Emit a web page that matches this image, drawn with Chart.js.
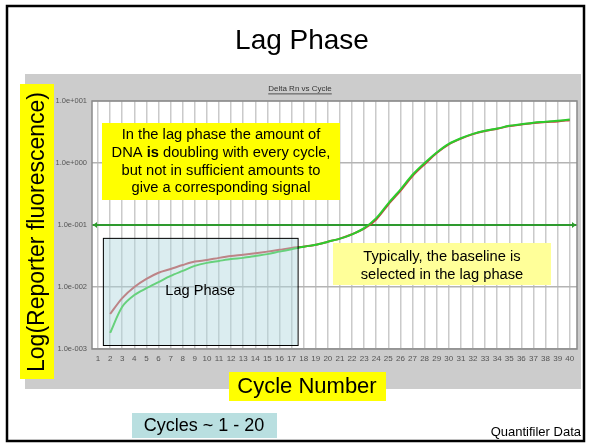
<!DOCTYPE html>
<html>
<head>
<meta charset="utf-8">
<script src="https://cdn.jsdelivr.net/npm/chart.js@4.4.0/dist/chart.umd.min.js"></script>
<style>
  html, body { margin: 0; padding: 0; background: #fff; }
  canvas { display: block; }
</style>
</head>
<body>
<canvas id="chart" width="591" height="447"></canvas>
<script>
// cycle numbers for the two amplification curves
var cycles = [2, 3, 4, 5, 6, 7, 8, 9, 10, 11, 12, 13, 14, 15, 16, 17, 18, 19, 20, 21,
  22, 23, 24, 25, 26, 27, 28, 29, 30, 31, 32, 33, 34, 35, 36, 37, 38, 39, 40];
// delta Rn, green sample
var greenRn = [0.00182, 0.00479, 0.00741, 0.00955, 0.0120, 0.0151, 0.0182, 0.0219, 0.0245, 0.0263,
  0.0282, 0.0295, 0.0316, 0.0339, 0.0372, 0.0407, 0.0447, 0.0479, 0.0537, 0.0603,
  0.0708, 0.0891, 0.129, 0.224, 0.372, 0.646, 1.0, 1.48, 2.04, 2.51,
  2.95, 3.31, 3.59, 3.98, 4.22, 4.47, 4.62, 4.79, 5.01];
// delta Rn, red sample
var redRn = [0.00367, 0.00661, 0.0100, 0.0135, 0.0170, 0.0195, 0.0226, 0.0257, 0.0272, 0.0295,
  0.0316, 0.0331, 0.0350, 0.0372, 0.0398, 0.0427, 0.0447, 0.0479, 0.0537, 0.0603,
  0.0708, 0.0871, 0.123, 0.214, 0.355, 0.617, 0.955, 1.45, 2.0, 2.47,
  2.92, 3.28, 3.56, 3.94, 4.18, 4.43, 4.57, 4.68, 4.9];
var xTicks = [1, 2, 3, 4, 5, 6, 7, 8, 9, 10, 11, 12, 13, 14, 15, 16, 17, 18, 19, 20,
  21, 22, 23, 24, 25, 26, 27, 28, 29, 30, 31, 32, 33, 34, 35, 36, 37, 38, 39, 40];
var yTicks = [0.001, 0.01, 0.1, 1, 10];
var threshold = 0.1;
// lag phase region, in data units: cycle from/to, Rn top/bottom
var lagCycles = [1.4, 17.5];
var lagRn = [0.062, 0.00116];

var FONT = "'Liberation Sans', Arial, sans-serif";

function sci(v) {
  var e = Math.round(Math.log10(v));
  var s = e < 0 ? "-" : "+";
  var n = String(Math.abs(e));
  while (n.length < 3) n = "0" + n;
  return "1.0e" + s + n;
}

function toPts(vals) {
  return cycles.map(function (c, i) { return { x: c, y: vals[i] }; });
}

function box(ctx, x, y, w, h, fill) {
  ctx.fillStyle = fill;
  ctx.fillRect(x, y, w, h);
}

function lines(ctx, arr, x, y, lh, font) {
  ctx.font = font;
  ctx.fillStyle = "#000";
  ctx.textAlign = "center";
  ctx.textBaseline = "middle";
  arr.forEach(function (t, i) { ctx.fillText(t, x, y + i * lh); });
}

var slide = {
  id: "slide",
  beforeDraw: function (chart) {
    var ctx = chart.ctx, a = chart.chartArea;
    ctx.save();
    box(ctx, 0, 0, 591, 447, "#fff");
    box(ctx, 25, 74, 556, 315, "#cccccc");
    box(ctx, a.left, a.top, a.right - a.left, a.bottom - a.top, "#fff");
    ctx.strokeStyle = "#000";
    ctx.lineWidth = 2.5;
    ctx.strokeRect(7, 6, 577, 435);
    ctx.font = "28px " + FONT;
    ctx.fillStyle = "#000";
    ctx.textAlign = "center";
    ctx.textBaseline = "middle";
    ctx.fillText("Lag Phase", 302, 41);
    // small chart title
    ctx.font = "8px " + FONT;
    ctx.fillStyle = "#333";
    ctx.fillText("Delta Rn vs Cycle", 300, 89);
    var w = ctx.measureText("Delta Rn vs Cycle").width;
    ctx.fillRect(300 - w / 2, 93.5, w, 0.8);
    ctx.restore();
  },
  afterDatasetsDraw: function (chart) {
    var ctx = chart.ctx, a = chart.chartArea;
    var xs = chart.scales.x, ys = chart.scales.y;
    ctx.save();
    // lag phase overlay
    var lx = xs.getPixelForValue(lagCycles[0]), rx = xs.getPixelForValue(lagCycles[1]);
    var ty = ys.getPixelForValue(lagRn[0]), by = ys.getPixelForValue(lagRn[1]);
    ctx.fillStyle = "rgba(176,216,222,0.45)";
    ctx.fillRect(lx, ty, rx - lx, by - ty);
    ctx.strokeStyle = "#000";
    ctx.lineWidth = 1;
    ctx.strokeRect(lx + 0.5, ty + 0.5, rx - lx, by - ty);
    lines(ctx, ["Lag Phase"], (lx + rx) / 2, ys.getPixelForValue(0.0085), 0, "14.6px " + FONT);
    // threshold arrow heads
    var yt = ys.getPixelForValue(threshold);
    ctx.fillStyle = "#2e9a2e";
    ctx.beginPath();
    ctx.moveTo(a.left + 1, yt); ctx.lineTo(a.left + 5, yt - 3); ctx.lineTo(a.left + 5, yt + 3);
    ctx.fill();
    ctx.beginPath();
    ctx.moveTo(a.right - 1, yt); ctx.lineTo(a.right - 5, yt - 3); ctx.lineTo(a.right - 5, yt + 3);
    ctx.fill();
    // plot frame
    ctx.strokeStyle = "#8a8a8a";
    ctx.lineWidth = 1.5;
    ctx.strokeRect(a.left, a.top, a.right - a.left, a.bottom - a.top);
    ctx.restore();
  },
  afterDraw: function (chart) {
    var ctx = chart.ctx;
    ctx.save();
    box(ctx, 102, 123, 238, 77, "#ffff00");
    lines(ctx, ["In the lag phase the amount of", "", "but not in sufficient amounts to", "give a corresponding signal"],
      221, 135, 17.8, "14.7px " + FONT);
    // line with bold "is"
    ctx.font = "14.7px " + FONT;
    var p1 = "DNA ", p3 = " doubling with every cycle,";
    var w1 = ctx.measureText(p1).width, w3 = ctx.measureText(p3).width;
    ctx.font = "bold 14.7px " + FONT;
    var w2 = ctx.measureText("is").width;
    var x0 = 221 - (w1 + w2 + w3) / 2;
    ctx.textAlign = "left";
    ctx.font = "14.7px " + FONT;
    ctx.fillText(p1, x0, 152.8);
    ctx.fillText(p3, x0 + w1 + w2, 152.8);
    ctx.font = "bold 14.7px " + FONT;
    ctx.fillText("is", x0 + w1, 152.8);

    box(ctx, 333, 243, 218, 42, "#ffff99");
    lines(ctx, ["Typically, the baseline is", "selected in the lag phase"], 442, 257, 17.5, "14.7px " + FONT);

    // y axis title
    box(ctx, 20, 84, 34, 295, "#ffff00");
    ctx.save();
    ctx.translate(38, 232);
    ctx.rotate(-Math.PI / 2);
    lines(ctx, ["Log(Reporter fluorescence)"], 0, 0, 0, "23px " + FONT);
    ctx.restore();

    // x axis title
    box(ctx, 229, 372, 157, 29, "#ffff00");
    lines(ctx, ["Cycle Number"], 307, 387, 0, "22px " + FONT);

    box(ctx, 132, 413, 145, 25, "#b9dfe0");
    lines(ctx, ["Cycles ~ 1 - 20"], 204, 426, 0, "18px " + FONT);

    ctx.font = "13px " + FONT;
    ctx.textAlign = "right";
    ctx.fillStyle = "#000";
    ctx.fillText("Quantifiler Data", 581, 432);
    ctx.restore();
  }
};

var ctx = document.getElementById("chart").getContext("2d");
var myChart = new Chart(ctx, {
  type: "line",
  data: {
    datasets: [
      {
        label: "green",
        data: toPts(greenRn),
        borderColor: "#2ccc2c",
        borderWidth: 2,
        pointRadius: 0,
        tension: 0.3,
      },
      {
        label: "red",
        data: toPts(redRn),
        borderColor: "#c84040",
        borderWidth: 2,
        pointRadius: 0,
        tension: 0.3,
      },
      {
        label: "threshold",
        data: [{ x: 0.5, y: threshold }, { x: 40.6, y: threshold }],
        borderColor: "#2e9a2e",
        borderWidth: 2,
        pointRadius: 0,
      },
    ],
  },
  options: {
    responsive: false,
    animation: false,
    layout: { padding: { left: 25, right: 14, top: 101, bottom: 78 } },
    plugins: { legend: { display: false }, tooltip: { enabled: false } },
    scales: {
      x: {
        type: "linear",
        min: 0.5,
        max: 40.6,
        afterBuildTicks: function (s) { s.ticks = xTicks.map(function (v) { return { value: v }; }); },
        afterFit: function (s) { s.height = 20; },
        grid: { color: "rgba(150,150,150,0.5)", lineWidth: 1.5, drawTicks: false },
        border: { display: false },
        ticks: { color: "#555", font: { family: FONT, size: 8 }, padding: 5, maxRotation: 0, autoSkip: false },
      },
      y: {
        type: "logarithmic",
        min: 0.001,
        max: 10,
        afterBuildTicks: function (s) { s.ticks = yTicks.map(function (v) { return { value: v }; }); },
        afterFit: function (s) { s.width = 67; },
        grid: { color: "#b4b4b4", lineWidth: 1.5, drawTicks: false },
        border: { display: false },
        ticks: { color: "#555", font: { family: FONT, size: 7.5 }, padding: 5, callback: function (v) { return sci(v); } },
      },
    },
  },
  plugins: [slide],
});
</script>
</body>
</html>
